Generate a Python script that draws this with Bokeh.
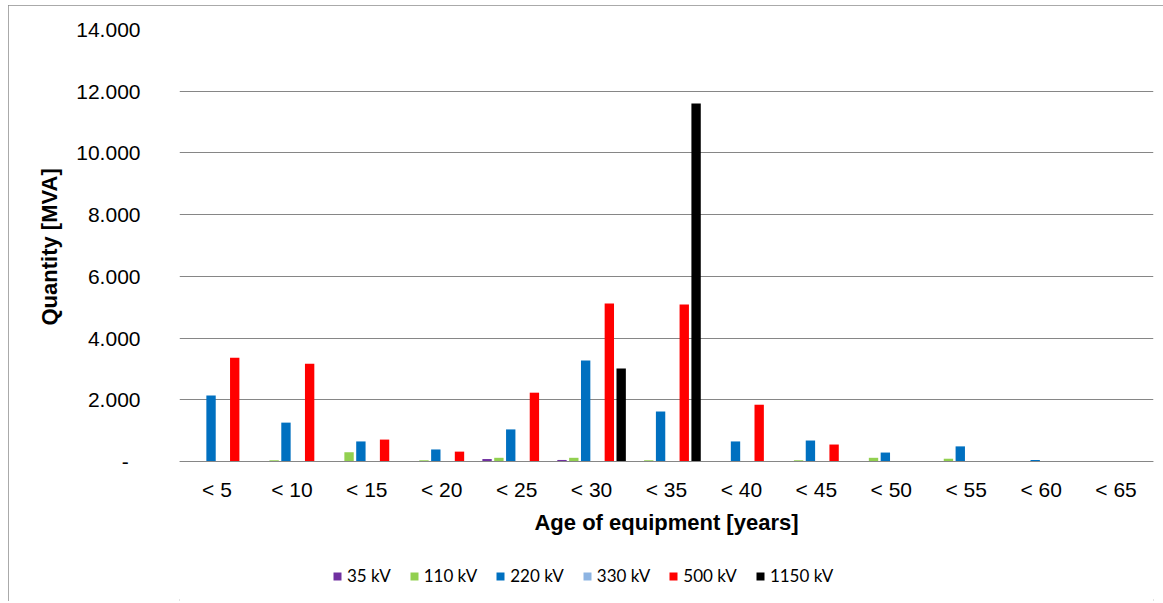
from bokeh.plotting import figure
from bokeh.models import FactorRange, Range1d, FixedTicker, Legend, LegendItem, ColumnDataSource, Title
from bokeh.transform import dodge
from bokeh.embed import file_html
from bokeh.resources import INLINE

categories = ["< 5", "< 10", "< 15", "< 20", "< 25", "< 30", "< 35",
              "< 40", "< 45", "< 50", "< 55", "< 60", "< 65"]
series_names = ["35 kV", "110 kV", "220 kV", "330 kV", "500 kV", "1150 kV"]
kv35 = [0, 0, 0, 0, 80, 50, 0, 0, 0, 0, 0, 0, 0]
kv110 = [0, 40, 300, 40, 120, 120, 40, 0, 40, 120, 90, 0, 0]
kv220 = [2140, 1260, 650, 390, 1040, 3270, 1620, 650, 680, 290, 490, 50, 0]
kv330 = [0, 0, 0, 0, 0, 0, 0, 0, 0, 0, 0, 0, 0]
kv500 = [3360, 3170, 710, 320, 2230, 5120, 5090, 1840, 550, 0, 0, 0, 0]
kv1150 = [0, 0, 0, 0, 0, 3010, 11600, 0, 0, 0, 0, 0, 0]
y_ticks = [0, 2000, 4000, 6000, 8000, 10000, 12000, 14000]
y_tick_labels = ["-\u00a0\u00a0", "2.000", "4.000", "6.000", "8.000", "10.000", "12.000", "14.000"]

colors = ["#7030A0", "#92D050", "#0070C0", "#8DB4E2", "#FF0000", "#000000"]
series_values = [kv35, kv110, kv220, kv330, kv500, kv1150]
keys = ["kv35", "kv110", "kv220", "kv330", "kv500", "kv1150"]

data = {"cat": categories}
for k, v in zip(keys, series_values):
    data[k] = v
source = ColumnDataSource(data)

# layout (figure pixels)
FIG_W, FIG_H = 1155, 596
TOP = 24            # frame top (14.000 line)
ZERO_PX = 456       # y position of the value 0
Y_MAX = 14000
y_min = -Y_MAX * (FIG_H - ZERO_PX) / (ZERO_PX - TOP)

p = figure(x_range=FactorRange(factors=categories), y_range=Range1d(y_min, Y_MAX),
           width=FIG_W, height=FIG_H, output_backend="svg", toolbar_location=None,
           min_border_left=171, min_border_right=10, min_border_top=TOP, min_border_bottom=0)
p.styles = {"outline": "2px solid #8e8e8e", "outline-offset": "-2px",
            "margin-left": "8px", "margin-top": "5px"}
p.outline_line_color = None

slot = 0.158
items = []
for i, (k, c, name) in enumerate(zip(keys, colors, series_names)):
    r = p.vbar(x=dodge("cat", (i - 2.5) * slot, range=p.x_range), top=k, width=0.125,
               source=source, fill_color=c, line_color=None)
    items.append(LegendItem(label=name, renderers=[r]))

p.xgrid.grid_line_color = None
p.ygrid.grid_line_color = "#868686"
p.ygrid.grid_line_width = 1.2

p.yaxis.ticker = FixedTicker(ticks=y_ticks)
p.yaxis.major_label_overrides = {t: l for t, l in zip(y_ticks, y_tick_labels)}
p.yaxis.axis_line_color = None
p.yaxis.major_tick_line_color = None
p.yaxis.minor_tick_line_color = None
p.yaxis.major_tick_out = 0
p.yaxis.minor_tick_out = 0
p.yaxis.major_label_standoff = 39
p.yaxis.major_label_text_font = "Liberation Sans"
p.yaxis.major_label_text_font_size = "21px"
p.yaxis.major_label_text_color = "#000000"

ytitle = Title(text="Quantity [MVA]", align="left", offset=276,
               text_font="Liberation Sans", text_font_size="22px",
               text_font_style="bold", text_color="#000000", standoff=23)
p.add_layout(ytitle, "left")

p.xaxis.fixed_location = 0
p.xaxis.axis_line_color = "#868686"
p.xaxis.axis_line_width = 1.2
p.xaxis.major_tick_line_color = None
p.xaxis.minor_tick_line_color = None
p.xaxis.major_tick_out = 0
p.xaxis.minor_tick_out = 0
p.xaxis.major_label_standoff = 16
p.xaxis.major_label_text_font = "Liberation Sans"
p.xaxis.major_label_text_font_size = "21px"
p.xaxis.major_label_text_color = "#000000"
p.xaxis.axis_label = "Age of equipment [years]"
p.xaxis.axis_label_text_font = "Liberation Sans"
p.xaxis.axis_label_text_font_size = "22px"
p.xaxis.axis_label_text_font_style = "bold"
p.xaxis.axis_label_text_color = "#000000"
p.xaxis.axis_label_standoff = 6

legend = Legend(items=items, orientation="horizontal", location=(153, 15))
legend.border_line_color = None
legend.background_fill_alpha = 0
legend.padding = 0
legend.margin = 0
legend.spacing = 18
legend.glyph_width = 10
legend.glyph_height = 10
legend.label_standoff = 5
legend.label_height = 18
legend.label_text_font = "Lato"
legend.label_text_font_size = "17px"
legend.label_text_color = "#000000"
p.add_layout(legend, "center")

open("out.html", "w").write(file_html(p, INLINE))
